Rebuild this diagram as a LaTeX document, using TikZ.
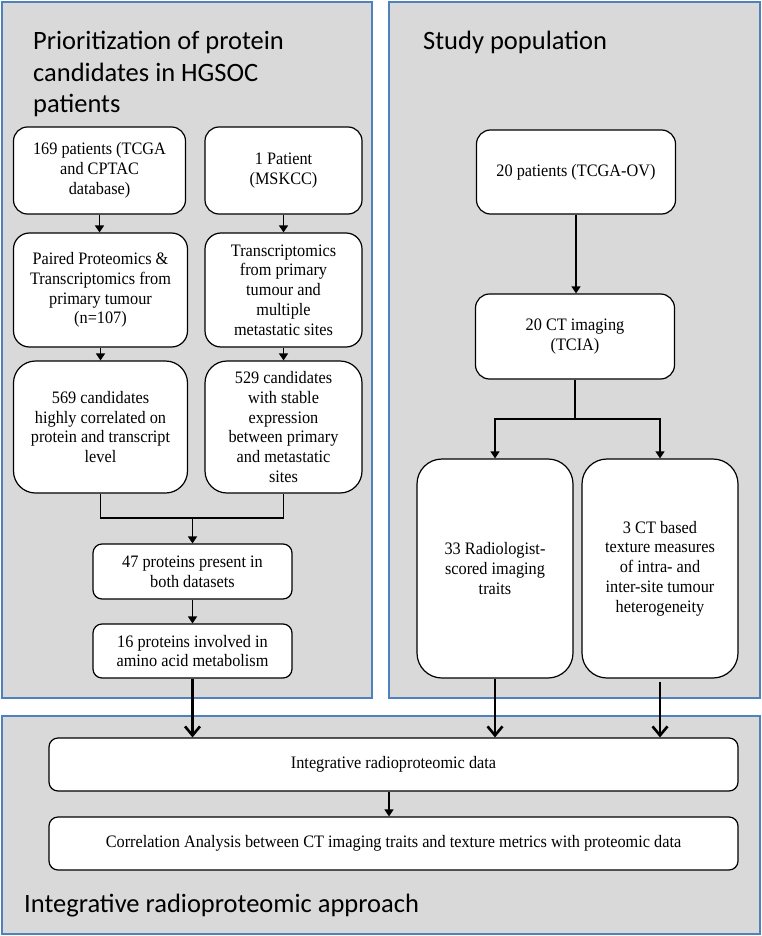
\documentclass[tikz,border=0pt]{standalone}
\usepackage{fontspec}
\setmainfont{Liberation Serif}[FakeStretch=0.93]
\newfontfamily\titlefont{Carlito}
\usetikzlibrary{arrows.meta}
\definecolor{panelfill}{HTML}{D9D9D9}
\definecolor{panelline}{HTML}{4F81BD}
\tikzset{
  panel/.style={fill=panelfill, draw=panelline, line width=1.5pt},
  box/.style={draw=black, fill=white, line width=1.2pt, rounded corners=#1, align=center, inner sep=0pt,
    font=\fontsize{17.5}{19.8}\selectfont},
  box/.default=12pt,
  ptitle/.style={anchor=base west, align=left, inner sep=0pt, font=\titlefont\fontsize{26.5}{31.5}\selectfont},
  arr/.style={line width=1.2pt, -{Triangle[length=7pt,width=9pt]}},
  line/.style={line width=1.2pt},
  bigarr/.style={line width=2.6pt, -{Straight Barb[length=9pt,width=15pt,line width=2.6pt]}}
}
\begin{document}
\begin{tikzpicture}[x=1pt,y=-1pt]
\useasboundingbox (0,0) rectangle (762,936);
% panels
\draw[panel] (2,2) rectangle (372,698);
\draw[panel] (389,2) rectangle (760,698);
\draw[panel] (2,716) rectangle (760,934);
% titles
\node[ptitle] (t1) at (33,113) {Prioritization of protein\\candidates in HGSOC\\patients};
\node[ptitle] (t2) at (423,50) {Study population};
\node[ptitle] (t3) at (24,912) {Integrative radioproteomic approach};
% left column
\node[box=14pt, minimum width=172pt, minimum height=87pt] (b169) at (99.5,170.5) {169 patients (TCGA\\and CPTAC\\database)};
\node[box=16pt, minimum width=174pt, minimum height=114pt] (paired) at (100.5,290) {Paired Proteomics \&\\Transcriptomics from\\primary tumour\\(n=107)};
\node[box=22pt, minimum width=174pt, minimum height=132pt] (c569) at (100.5,427) {569 candidates\\highly correlated on\\protein and transcript\\level};
% right column
\node[box=14pt, minimum width=157pt, minimum height=87pt] (p1) at (283.5,170.5) {1 Patient\\(MSKCC)};
\node[box=16pt, minimum width=157pt, minimum height=114pt] (trans) at (283.5,290) {Transcriptomics\\from primary\\tumour and\\multiple\\metastatic sites};
\node[box=22pt, minimum width=157pt, minimum height=132pt] (c529) at (283.5,427) {529 candidates\\with stable\\expression\\between primary\\and metastatic\\sites};
% merged
\node[box=9pt, minimum width=199pt, minimum height=55pt] (p47) at (192.5,571.5) {47 proteins present in\\both datasets};
\node[box=9pt, minimum width=199pt, minimum height=54pt] (p16) at (192.5,651) {16 proteins involved in\\amino acid metabolism};
% study population
\node[box=14pt, minimum width=199pt, minimum height=84pt] (pt20) at (576,172) {20 patients (TCGA-OV)};
\node[box=14pt, minimum width=199pt, minimum height=85pt] (ct20) at (575,336.5) {20 CT imaging\\(TCIA)};
\node[box=25pt, minimum width=156pt, minimum height=219pt] (r33) at (495,568.5) {33 Radiologist-\\scored imaging\\traits};
\node[box=25pt, minimum width=156pt, minimum height=219pt] (tex3) at (660,568.5) {3 CT based\\texture measures\\of intra- and\\inter-site tumour\\heterogeneity};
% bottom
\node[box=9pt, minimum width=689pt, minimum height=53pt] (integ) at (393.5,764.5) {Integrative radioproteomic data};
\node[box=9pt, minimum width=689pt, minimum height=53pt] (corr) at (393.5,843.5) {Correlation Analysis between CT imaging traits and texture metrics with proteomic data};
% connectors left
\draw[arr] (b169.south) -- (b169.south |- paired.north);
\draw[arr] (p1.south) -- (trans.north);
\draw[arr] (paired.south) -- (c569.north);
\draw[arr] (trans.south) -- (c529.north);
\coordinate (mj) at (192.5,518);
\draw[line] (c569.south) -- (c569.south |- mj) -- (c529.south |- mj) -- (c529.south);
\draw[arr] (mj) -- (p47.north);
\draw[arr] (p47.south) -- (p16.north);
% connectors right
\draw[arr] (pt20.south) -- (pt20.south |- ct20.north);
\coordinate (sj) at (575,419);
\draw[line] (ct20.south) -- (sj);
\draw[arr] (sj) -| (r33.north);
\draw[arr] (sj) -| (tex3.north);
% big arrows
\draw[bigarr] (p16.south) -- (p16.south |- integ.north);
\draw[bigarr] (r33.south) -- (r33.south |- integ.north);
\coordinate (t3s) at (660,682);
\draw[bigarr] (t3s) -- (t3s |- integ.north);
\coordinate (xa) at (389,0);
\draw[arr] (integ.south -| xa) -- (corr.north -| xa);
\end{tikzpicture}
\end{document}
